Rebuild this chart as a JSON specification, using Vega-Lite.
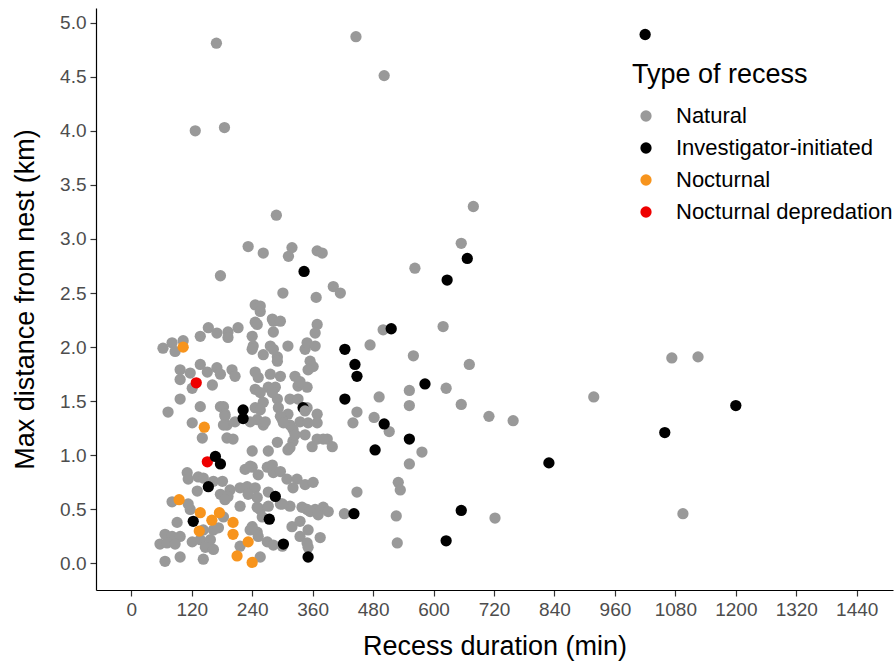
{
  "$schema": "https://vega.github.io/schema/vega-lite/v6.json",
  "autosize": {"type": "none"},
  "width": 797,
  "height": 582,
  "padding": {"left": 96, "top": 8, "right": 2, "bottom": 75},
  "background": "white",
  "config": {
    "view": {"stroke": null},
    "font": "Liberation Sans",
    "axis": {
      "grid": false,
      "domainColor": "black",
      "domainWidth": 1.2,
      "tickColor": "#333333",
      "tickWidth": 1.2,
      "tickSize": 6,
      "labelFontSize": 19,
      "labelColor": "#4D4D4D",
      "labelFont": "Liberation Sans",
      "titleFont": "Liberation Sans",
      "titleFontSize": 27,
      "titleFontWeight": "normal",
      "titleColor": "black"
    },
    "legend": {
      "titleFont": "Liberation Sans",
      "labelFont": "Liberation Sans",
      "titleFontSize": 27,
      "titleFontWeight": "normal",
      "titleColor": "black",
      "labelFontSize": 22,
      "labelColor": "black",
      "labelLimit": 0,
      "padding": 0
    }
  },
  "data": {"values": [
    {"d":169,"km":4.81,"t":"Natural"},{"d":127,"km":4.00,"t":"Natural"},{"d":185,"km":4.03,"t":"Natural"},{"d":446,"km":4.87,"t":"Natural"},{"d":502,"km":4.51,"t":"Natural"},
    {"d":679,"km":3.30,"t":"Natural"},{"d":288,"km":3.22,"t":"Natural"},{"d":232,"km":2.93,"t":"Natural"},{"d":262,"km":2.87,"t":"Natural"},{"d":319,"km":2.92,"t":"Natural"},
    {"d":312,"km":2.84,"t":"Natural"},{"d":369,"km":2.89,"t":"Natural"},{"d":379,"km":2.87,"t":"Natural"},{"d":177,"km":2.66,"t":"Natural"},{"d":301,"km":2.50,"t":"Natural"},
    {"d":367,"km":2.46,"t":"Natural"},{"d":401,"km":2.56,"t":"Natural"},{"d":415,"km":2.50,"t":"Natural"},{"d":246,"km":2.39,"t":"Natural"},{"d":256,"km":2.38,"t":"Natural"},
    {"d":655,"km":2.96,"t":"Natural"},{"d":563,"km":2.73,"t":"Natural"},{"d":619,"km":2.19,"t":"Natural"},{"d":500,"km":2.16,"t":"Natural"},{"d":474,"km":2.02,"t":"Natural"},
    {"d":560,"km":1.92,"t":"Natural"},{"d":671,"km":1.84,"t":"Natural"},{"d":1073,"km":1.90,"t":"Natural"},{"d":1125,"km":1.91,"t":"Natural"},{"d":492,"km":1.54,"t":"Natural"},
    {"d":552,"km":1.60,"t":"Natural"},{"d":552,"km":1.46,"t":"Natural"},{"d":625,"km":1.62,"t":"Natural"},{"d":655,"km":1.47,"t":"Natural"},{"d":710,"km":1.36,"t":"Natural"},
    {"d":758,"km":1.32,"t":"Natural"},{"d":918,"km":1.54,"t":"Natural"},{"d":482,"km":1.35,"t":"Natural"},{"d":512,"km":1.22,"t":"Natural"},{"d":577,"km":1.03,"t":"Natural"},
    {"d":552,"km":0.92,"t":"Natural"},{"d":530,"km":0.75,"t":"Natural"},{"d":534,"km":0.68,"t":"Natural"},{"d":526,"km":0.44,"t":"Natural"},{"d":722,"km":0.42,"t":"Natural"},
    {"d":1095,"km":0.46,"t":"Natural"},{"d":528,"km":0.19,"t":"Natural"},{"d":448,"km":0.66,"t":"Natural"},{"d":448,"km":1.40,"t":"Natural"},{"d":440,"km":1.30,"t":"Natural"},
    {"d":423,"km":0.46,"t":"Natural"},
    {"d":63,"km":1.99,"t":"Natural"},{"d":81,"km":2.04,"t":"Natural"},{"d":87,"km":1.96,"t":"Natural"},{"d":103,"km":2.06,"t":"Natural"},{"d":137,"km":2.10,"t":"Natural"},
    {"d":153,"km":2.18,"t":"Natural"},{"d":170,"km":2.13,"t":"Natural"},{"d":192,"km":2.14,"t":"Natural"},{"d":212,"km":2.18,"t":"Natural"},{"d":192,"km":2.09,"t":"Natural"},
    {"d":240,"km":2.10,"t":"Natural"},{"d":242,"km":2.01,"t":"Natural"},{"d":246,"km":2.23,"t":"Natural"},{"d":256,"km":2.33,"t":"Natural"},{"d":282,"km":2.24,"t":"Natural"},
    {"d":250,"km":2.21,"t":"Natural"},{"d":280,"km":2.26,"t":"Natural"},{"d":296,"km":2.24,"t":"Natural"},{"d":282,"km":2.14,"t":"Natural"},{"d":276,"km":2.01,"t":"Natural"},
    {"d":240,"km":1.98,"t":"Natural"},{"d":262,"km":1.93,"t":"Natural"},{"d":290,"km":1.91,"t":"Natural"},{"d":311,"km":2.01,"t":"Natural"},{"d":345,"km":1.98,"t":"Natural"},
    {"d":349,"km":2.04,"t":"Natural"},{"d":365,"km":2.01,"t":"Natural"},{"d":369,"km":2.21,"t":"Natural"},{"d":365,"km":2.13,"t":"Natural"},
    {"d":97,"km":1.79,"t":"Natural"},{"d":117,"km":1.76,"t":"Natural"},{"d":137,"km":1.84,"t":"Natural"},{"d":151,"km":1.77,"t":"Natural"},{"d":170,"km":1.81,"t":"Natural"},
    {"d":177,"km":1.75,"t":"Natural"},{"d":200,"km":1.79,"t":"Natural"},{"d":206,"km":1.73,"t":"Natural"},{"d":97,"km":1.70,"t":"Natural"},{"d":246,"km":1.77,"t":"Natural"},
    {"d":252,"km":1.72,"t":"Natural"},{"d":276,"km":1.75,"t":"Natural"},{"d":282,"km":1.98,"t":"Natural"},{"d":290,"km":1.87,"t":"Natural"},{"d":296,"km":1.73,"t":"Natural"},
    {"d":325,"km":1.73,"t":"Natural"},{"d":355,"km":1.87,"t":"Natural"},{"d":361,"km":1.82,"t":"Natural"},{"d":351,"km":1.79,"t":"Natural"},
    {"d":121,"km":1.62,"t":"Natural"},{"d":161,"km":1.65,"t":"Natural"},{"d":97,"km":1.52,"t":"Natural"},{"d":246,"km":1.61,"t":"Natural"},{"d":272,"km":1.63,"t":"Natural"},
    {"d":286,"km":1.63,"t":"Natural"},{"d":331,"km":1.64,"t":"Natural"},{"d":349,"km":1.63,"t":"Natural"},{"d":335,"km":1.68,"t":"Natural"},{"d":256,"km":1.58,"t":"Natural"},
    {"d":290,"km":1.52,"t":"Natural"},{"d":315,"km":1.52,"t":"Natural"},{"d":262,"km":1.49,"t":"Natural"},{"d":280,"km":1.58,"t":"Natural"},{"d":331,"km":1.52,"t":"Natural"},
    {"d":73,"km":1.40,"t":"Natural"},{"d":137,"km":1.45,"t":"Natural"},{"d":177,"km":1.45,"t":"Natural"},{"d":183,"km":1.45,"t":"Natural"},{"d":186,"km":1.38,"t":"Natural"},
    {"d":190,"km":1.28,"t":"Natural"},{"d":121,"km":1.30,"t":"Natural"},{"d":206,"km":1.31,"t":"Natural"},{"d":246,"km":1.44,"t":"Natural"},{"d":250,"km":1.33,"t":"Natural"},
    {"d":256,"km":1.42,"t":"Natural"},{"d":292,"km":1.44,"t":"Natural"},{"d":349,"km":1.44,"t":"Natural"},{"d":369,"km":1.38,"t":"Natural"},{"d":311,"km":1.38,"t":"Natural"},
    {"d":300,"km":1.33,"t":"Natural"},{"d":315,"km":1.28,"t":"Natural"},{"d":335,"km":1.31,"t":"Natural"},{"d":351,"km":1.30,"t":"Natural"},{"d":369,"km":1.30,"t":"Natural"},
    {"d":262,"km":1.28,"t":"Natural"},{"d":236,"km":1.31,"t":"Natural"},{"d":266,"km":1.31,"t":"Natural"},{"d":296,"km":1.36,"t":"Natural"},{"d":302,"km":1.30,"t":"Natural"},
    {"d":321,"km":1.24,"t":"Natural"},{"d":186,"km":1.36,"t":"Natural"},{"d":183,"km":1.28,"t":"Natural"},
    {"d":141,"km":1.16,"t":"Natural"},{"d":190,"km":1.16,"t":"Natural"},{"d":202,"km":1.15,"t":"Natural"},{"d":345,"km":1.19,"t":"Natural"},{"d":369,"km":1.15,"t":"Natural"},
    {"d":359,"km":1.08,"t":"Natural"},{"d":389,"km":1.15,"t":"Natural"},{"d":399,"km":1.08,"t":"Natural"},{"d":290,"km":1.12,"t":"Natural"},{"d":272,"km":1.04,"t":"Natural"},
    {"d":311,"km":1.05,"t":"Natural"},{"d":240,"km":1.04,"t":"Natural"},{"d":321,"km":1.13,"t":"Natural"},{"d":325,"km":1.19,"t":"Natural"},{"d":315,"km":1.07,"t":"Natural"},
    {"d":381,"km":1.15,"t":"Natural"},
    {"d":226,"km":0.87,"t":"Natural"},{"d":240,"km":0.89,"t":"Natural"},{"d":252,"km":0.82,"t":"Natural"},{"d":270,"km":0.89,"t":"Natural"},{"d":282,"km":0.84,"t":"Natural"},
    {"d":296,"km":0.85,"t":"Natural"},{"d":309,"km":0.78,"t":"Natural"},{"d":329,"km":0.78,"t":"Natural"},{"d":345,"km":0.73,"t":"Natural"},{"d":361,"km":0.75,"t":"Natural"},
    {"d":321,"km":0.70,"t":"Natural"},{"d":111,"km":0.84,"t":"Natural"},{"d":113,"km":0.78,"t":"Natural"},{"d":133,"km":0.80,"t":"Natural"},{"d":143,"km":0.79,"t":"Natural"},
    {"d":163,"km":0.76,"t":"Natural"},{"d":181,"km":0.76,"t":"Natural"},{"d":236,"km":0.90,"t":"Natural"},{"d":280,"km":0.91,"t":"Natural"},
    {"d":196,"km":0.68,"t":"Natural"},{"d":192,"km":0.62,"t":"Natural"},{"d":216,"km":0.70,"t":"Natural"},{"d":230,"km":0.71,"t":"Natural"},{"d":246,"km":0.70,"t":"Natural"},
    {"d":232,"km":0.64,"t":"Natural"},{"d":250,"km":0.61,"t":"Natural"},{"d":272,"km":0.66,"t":"Natural"},{"d":296,"km":0.55,"t":"Natural"},{"d":131,"km":0.67,"t":"Natural"},
    {"d":177,"km":0.64,"t":"Natural"},{"d":186,"km":0.59,"t":"Natural"},{"d":216,"km":0.53,"t":"Natural"},{"d":256,"km":0.50,"t":"Natural"},{"d":117,"km":0.50,"t":"Natural"},
    {"d":315,"km":0.53,"t":"Natural"},{"d":349,"km":0.50,"t":"Natural"},{"d":365,"km":0.50,"t":"Natural"},{"d":381,"km":0.52,"t":"Natural"},{"d":81,"km":0.57,"t":"Natural"},
    {"d":113,"km":0.55,"t":"Natural"},{"d":250,"km":0.52,"t":"Natural"},{"d":272,"km":0.53,"t":"Natural"},{"d":300,"km":0.55,"t":"Natural"},
    {"d":91,"km":0.38,"t":"Natural"},{"d":67,"km":0.27,"t":"Natural"},{"d":81,"km":0.25,"t":"Natural"},{"d":97,"km":0.25,"t":"Natural"},{"d":57,"km":0.18,"t":"Natural"},
    {"d":71,"km":0.19,"t":"Natural"},{"d":87,"km":0.18,"t":"Natural"},{"d":121,"km":0.20,"t":"Natural"},{"d":143,"km":0.31,"t":"Natural"},{"d":163,"km":0.31,"t":"Natural"},
    {"d":173,"km":0.33,"t":"Natural"},{"d":137,"km":0.22,"t":"Natural"},{"d":157,"km":0.22,"t":"Natural"},{"d":147,"km":0.15,"t":"Natural"},{"d":163,"km":0.13,"t":"Natural"},
    {"d":67,"km":0.02,"t":"Natural"},{"d":97,"km":0.06,"t":"Natural"},{"d":143,"km":0.04,"t":"Natural"},{"d":183,"km":0.43,"t":"Natural"},{"d":236,"km":0.31,"t":"Natural"},
    {"d":250,"km":0.29,"t":"Natural"},{"d":216,"km":0.16,"t":"Natural"},{"d":260,"km":0.43,"t":"Natural"},{"d":339,"km":0.52,"t":"Natural"},{"d":355,"km":0.48,"t":"Natural"},
    {"d":371,"km":0.45,"t":"Natural"},{"d":391,"km":0.48,"t":"Natural"},{"d":319,"km":0.34,"t":"Natural"},{"d":335,"km":0.39,"t":"Natural"},{"d":351,"km":0.31,"t":"Natural"},
    {"d":375,"km":0.24,"t":"Natural"},{"d":335,"km":0.25,"t":"Natural"},{"d":349,"km":0.19,"t":"Natural"},{"d":351,"km":0.15,"t":"Natural"},{"d":256,"km":0.06,"t":"Natural"},
    {"d":240,"km":0.34,"t":"Natural"},{"d":252,"km":0.25,"t":"Natural"},{"d":270,"km":0.20,"t":"Natural"},{"d":282,"km":0.17,"t":"Natural"},{"d":300,"km":0.16,"t":"Natural"},
    {"d":103,"km":2.00,"t":"Nocturnal"},{"d":145,"km":1.26,"t":"Nocturnal"},{"d":95,"km":0.59,"t":"Nocturnal"},{"d":137,"km":0.47,"t":"Nocturnal"},{"d":160,"km":0.40,"t":"Nocturnal"},
    {"d":175,"km":0.47,"t":"Nocturnal"},{"d":202,"km":0.38,"t":"Nocturnal"},{"d":202,"km":0.27,"t":"Nocturnal"},{"d":232,"km":0.20,"t":"Nocturnal"},{"d":210,"km":0.07,"t":"Nocturnal"},
    {"d":240,"km":0.01,"t":"Nocturnal"},{"d":135,"km":0.30,"t":"Nocturnal"},
    {"d":129,"km":1.67,"t":"Nocturnal depredation"},{"d":151,"km":0.94,"t":"Nocturnal depredation"},
    {"d":1020,"km":4.89,"t":"Investigator-initiated"},{"d":343,"km":2.70,"t":"Investigator-initiated"},{"d":667,"km":2.82,"t":"Investigator-initiated"},{"d":627,"km":2.62,"t":"Investigator-initiated"},
    {"d":516,"km":2.17,"t":"Investigator-initiated"},{"d":424,"km":1.98,"t":"Investigator-initiated"},{"d":444,"km":1.84,"t":"Investigator-initiated"},{"d":448,"km":1.73,"t":"Investigator-initiated"},
    {"d":583,"km":1.66,"t":"Investigator-initiated"},{"d":424,"km":1.52,"t":"Investigator-initiated"},{"d":502,"km":1.29,"t":"Investigator-initiated"},{"d":552,"km":1.15,"t":"Investigator-initiated"},
    {"d":484,"km":1.05,"t":"Investigator-initiated"},{"d":829,"km":0.93,"t":"Investigator-initiated"},{"d":1059,"km":1.21,"t":"Investigator-initiated"},{"d":1200,"km":1.46,"t":"Investigator-initiated"},
    {"d":655,"km":0.49,"t":"Investigator-initiated"},{"d":625,"km":0.21,"t":"Investigator-initiated"},{"d":442,"km":0.46,"t":"Investigator-initiated"},{"d":222,"km":1.42,"t":"Investigator-initiated"},
    {"d":222,"km":1.34,"t":"Investigator-initiated"},{"d":341,"km":1.44,"t":"Investigator-initiated"},{"d":167,"km":0.99,"t":"Investigator-initiated"},{"d":177,"km":0.92,"t":"Investigator-initiated"},
    {"d":153,"km":0.71,"t":"Investigator-initiated"},{"d":123,"km":0.39,"t":"Investigator-initiated"},{"d":286,"km":0.62,"t":"Investigator-initiated"},{"d":274,"km":0.41,"t":"Investigator-initiated"},
    {"d":302,"km":0.18,"t":"Investigator-initiated"},{"d":351,"km":0.06,"t":"Investigator-initiated"},
    {"d":345,"km":1.41,"t":"Natural"}
  ]},
  "mark": {"type": "point", "filled": true, "opacity": 1, "size": 127, "shape": "circle"},
  "encoding": {
    "x": {
      "field": "d", "type": "quantitative",
      "scale": {"domain": [-70, 1512], "nice": false, "zero": false},
      "axis": {"values": [0,120,240,360,480,600,720,840,960,1080,1200,1320,1440], "format": "d", "title": "Recess duration (min)", "labelPadding": 4, "titlePadding": 14}
    },
    "y": {
      "field": "km", "type": "quantitative",
      "scale": {"domain": [-0.245, 5.135], "nice": false, "zero": false},
      "axis": {"values": [0,0.5,1,1.5,2,2.5,3,3.5,4,4.5,5], "format": ".1f", "title": "Max distance from nest (km)", "labelPadding": 4, "titlePadding": 20}
    },
    "color": {
      "field": "t", "type": "nominal",
      "scale": {"domain": ["Natural", "Investigator-initiated", "Nocturnal", "Nocturnal depredation"], "range": ["#999999", "#000000", "#F7941D", "#EE0000"]},
      "legend": {"title": "Type of recess", "orient": "none", "legendX": 536, "legendY": 54, "symbolSize": 127, "symbolType": "circle", "symbolStrokeWidth": 0, "symbolOffset": 3, "rowPadding": 10, "titlePadding": 16, "labelOffset": 19}
    }
  }
}
